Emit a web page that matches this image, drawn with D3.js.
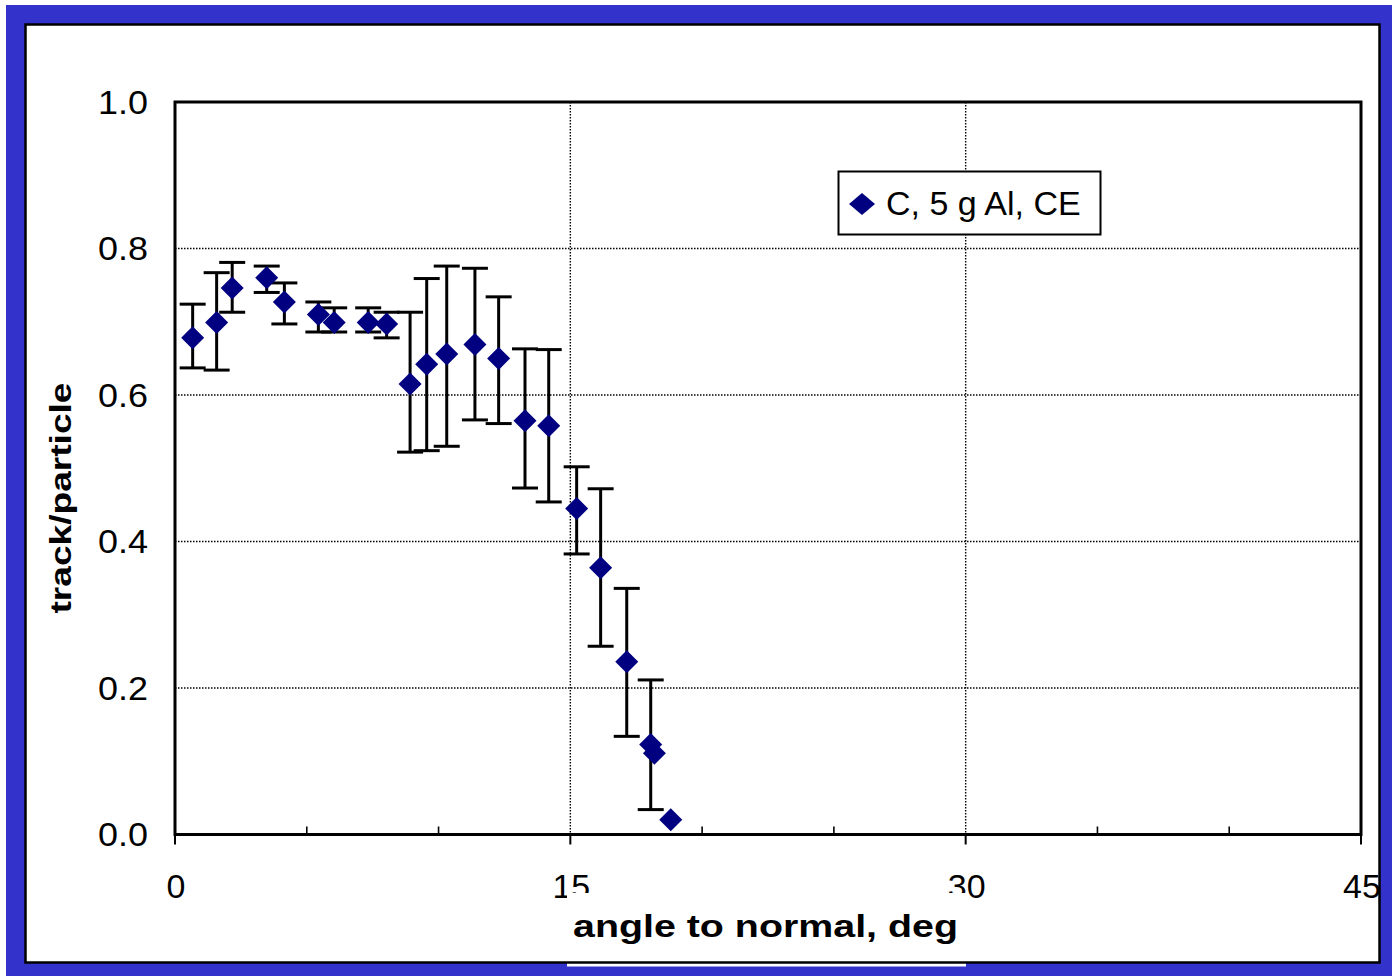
<!DOCTYPE html>
<html>
<head>
<meta charset="utf-8">
<script src="https://cdn.jsdelivr.net/npm/d3@7"></script>
<style>
  html, body { margin: 0; padding: 0; background: #fff; }
  svg { display: block; font-family: "Liberation Sans", Arial, sans-serif; }
</style>
</head>
<body>
<svg id="chart" width="1392" height="976"></svg>
<script>
// ---- data ----
const angles   = [0.67, 1.58, 2.17, 3.48, 4.15, 5.44, 6.04, 7.33, 8.03, 8.92, 9.55, 10.31, 11.38, 12.28, 13.28, 14.18, 15.24, 16.15, 17.14, 18.05, 18.19, 18.81];
const values   = [0.678, 0.699, 0.746, 0.760, 0.727, 0.710, 0.699, 0.699, 0.697, 0.615, 0.642, 0.656, 0.669, 0.650, 0.565, 0.558, 0.445, 0.364, 0.236, 0.123, 0.111, 0.020];
const errHigh  = [0.724, 0.767, 0.781, 0.776, 0.753, 0.727, 0.719, 0.719, 0.713, 0.713, 0.759, 0.776, 0.773, 0.734, 0.663, 0.662, 0.502, 0.472, 0.336, 0.211, null, null];
const errLow   = [0.637, 0.634, 0.713, 0.740, 0.697, 0.686, 0.686, 0.686, 0.678, 0.522, 0.524, 0.530, 0.566, 0.561, 0.473, 0.454, 0.383, 0.257, 0.134, 0.034, null, null];
const xTicks      = [0, 15, 30, 45];
const xMinorTicks = [5, 10, 20, 25, 35, 40];
const yTicks      = [0, 0.2, 0.4, 0.6, 0.8, 1.0];
const seriesName  = "C, 5 g Al, CE";
const xTitle      = "angle to normal, deg";
const yTitle      = "track/particle";

const svg = d3.select("#chart");
const W = 1392, H = 976;
const plot = { left: 175, right: 1361, top: 102, bottom: 834.5 };

const x = d3.scaleLinear().domain([0, 45]).range([plot.left, plot.right]);
const y = d3.scaleLinear().domain([0, 1]).range([plot.bottom, plot.top]);

svg.append("rect").attr("width", W).attr("height", H).attr("fill", "#fff");

// gridlines
const grid = svg.append("g").attr("stroke", "#000").attr("stroke-width", 1.4).attr("stroke-dasharray", "1.5,1.5");
grid.selectAll("line.gy").data(yTicks.filter(d => d > 0 && d < 1)).join("line")
  .attr("x1", plot.left).attr("x2", plot.right)
  .attr("y1", d => y(d)).attr("y2", d => y(d));
grid.selectAll("line.gx").data(xTicks.filter(d => d > 0 && d < 45)).join("line")
  .attr("y1", plot.top).attr("y2", plot.bottom)
  .attr("x1", d => x(d)).attr("x2", d => x(d));

// x axis ticks: major outside, minor inside
svg.append("g").selectAll("line").data(xTicks).join("line")
  .attr("x1", d => x(d)).attr("x2", d => x(d))
  .attr("y1", plot.bottom).attr("y2", plot.bottom + 10)
  .attr("stroke", "#000").attr("stroke-width", 2);
svg.append("g").selectAll("line").data(xMinorTicks).join("line")
  .attr("x1", d => x(d)).attr("x2", d => x(d))
  .attr("y1", plot.bottom).attr("y2", plot.bottom - 8)
  .attr("stroke", "#000").attr("stroke-width", 1.6);

// plot frame
svg.append("rect")
  .attr("x", plot.left).attr("y", plot.top)
  .attr("width", plot.right - plot.left).attr("height", plot.bottom - plot.top)
  .attr("fill", "none").attr("stroke", "#000").attr("stroke-width", 3);

// tick labels
svg.append("g").selectAll("text").data(yTicks).join("text")
  .attr("x", 148).attr("y", d => y(d)).attr("dy", "0.36em")
  .attr("text-anchor", "end").attr("font-size", 33).attr("fill", "#000")
  .attr("textLength", 50).attr("lengthAdjust", "spacingAndGlyphs")
  .text(d => d3.format(".1f")(d));
svg.append("g").selectAll("text").data(xTicks).join("text")
  .attr("x", d => x(d) + 1).attr("y", 898)
  .attr("text-anchor", "middle").attr("font-size", 34).attr("fill", "#000")
  .text(d => d);

// error bars
const pts = angles.map((a, i) => ({ a, v: values[i], hi: errHigh[i], lo: errLow[i] }));
const eb = svg.append("g").attr("stroke", "#000").attr("stroke-width", 3).attr("fill", "none");
const withErr = pts.filter(p => p.hi != null);
eb.selectAll("line.v").data(withErr).join("line")
  .attr("x1", p => x(p.a)).attr("x2", p => x(p.a))
  .attr("y1", p => y(p.hi)).attr("y2", p => y(p.lo));
eb.selectAll("line.ch").data(withErr).join("line")
  .attr("x1", p => x(p.a) - 13).attr("x2", p => x(p.a) + 13)
  .attr("y1", p => y(p.hi)).attr("y2", p => y(p.hi));
eb.selectAll("line.cl").data(withErr).join("line")
  .attr("x1", p => x(p.a) - 13).attr("x2", p => x(p.a) + 13)
  .attr("y1", p => y(p.lo)).attr("y2", p => y(p.lo));

// diamonds
const diamond = (cx, cy, rx, ry) => `M${cx},${cy - ry}L${cx + rx},${cy}L${cx},${cy + ry}L${cx - rx},${cy}Z`;
svg.append("g").selectAll("path").data(pts).join("path")
  .attr("d", p => diamond(x(p.a), y(p.v), 11.5, 11.5))
  .attr("fill", "#000080");

// legend
const lg = svg.append("g");
lg.append("rect").attr("x", 838.5).attr("y", 171.5).attr("width", 262).attr("height", 63)
  .attr("fill", "#fff").attr("stroke", "#000").attr("stroke-width", 2);
lg.append("path").attr("d", diamond(862, 204, 13, 11)).attr("fill", "#000080");
lg.append("text").attr("x", 886).attr("y", 215).attr("font-size", 34).attr("fill", "#000").text(seriesName);

// y title
svg.append("text")
  .attr("transform", "translate(71,498) rotate(-90)")
  .attr("text-anchor", "middle").attr("font-size", 29).attr("font-weight", "bold")
  .attr("textLength", 231).attr("lengthAdjust", "spacingAndGlyphs")
  .text(yTitle);

// outer blue frame (drawn over chart so overflowing labels get clipped)
svg.append("path")
  .attr("d", `M6,5H${W + 10}V${H + 10}H6Z M25,24V963H1380V24Z`)
  .attr("fill", "#3333cc").attr("fill-rule", "evenodd");

// x title background box
svg.append("rect").attr("x", 567).attr("y", 893).attr("width", 399).attr("height", 73.5).attr("fill", "#fff");

// inner black outline
svg.append("rect").attr("x", 25.5).attr("y", 24.5).attr("width", 1354).attr("height", 938)
  .attr("fill", "none").attr("stroke", "#000").attr("stroke-width", 2.5);

// x title
svg.append("text")
  .attr("x", 765.5).attr("y", 937)
  .attr("text-anchor", "middle").attr("font-size", 31).attr("font-weight", "bold")
  .attr("textLength", 385).attr("lengthAdjust", "spacingAndGlyphs")
  .text(xTitle);
</script>
</body>
</html>
